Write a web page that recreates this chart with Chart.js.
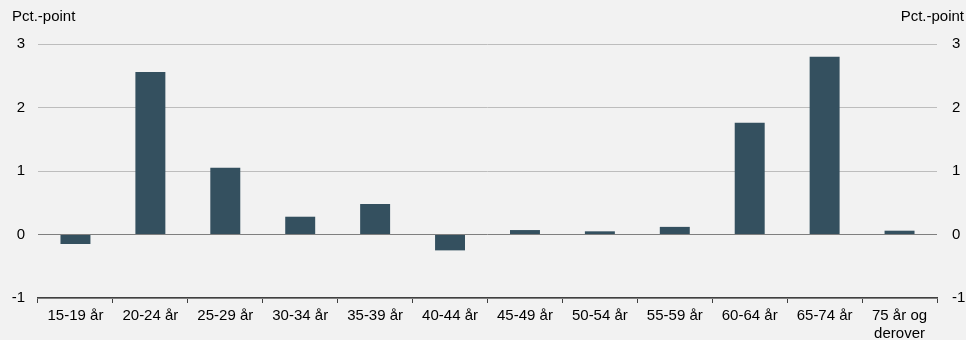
<!DOCTYPE html>
<html>
<head>
<meta charset="utf-8">
<script src="https://cdn.jsdelivr.net/npm/chart.js@4/dist/chart.umd.min.js"></script>
<style>
  html, body { margin: 0; padding: 0; background: #f2f2f2; }
  #wrap { width: 966px; height: 340px; }
</style>
</head>
<body>
<div id="wrap"><canvas id="grafik"></canvas></div>
<script>
const kategorier = [
  "15-19 år", "20-24 år", "25-29 år", "30-34 år", "35-39 år", "40-44 år",
  "45-49 år", "50-54 år", "55-59 år", "60-64 år", "65-74 år", ["75 år og", "derover"]
];
const vaerdier = [-0.15, 2.56, 1.05, 0.28, 0.48, -0.25, 0.07, 0.05, 0.12, 1.76, 2.8, 0.06];
const yTicks = [-1, 0, 1, 2, 3];
const enhed = "Pct.-point";

const fontFamilie = "'Liberation Sans', Arial, sans-serif";
const fontStr = 15;

const enhedPlugin = {
  id: "enhed",
  afterDraw(chart) {
    const ctx = chart.ctx;
    ctx.save();
    ctx.font = fontStr + "px " + fontFamilie;
    ctx.fillStyle = "#000";
    ctx.textBaseline = "middle";
    ctx.textAlign = "left";
    ctx.fillText(enhed, 12, 17);
    ctx.textAlign = "right";
    ctx.fillText(enhed, 964, 17);
    ctx.restore();
  }
};

const yAkse = (pos) => ({
  display: true,
  position: pos,
  min: -1,
  max: 3,
  afterBuildTicks: s => { s.ticks = yTicks.map(v => ({ value: v })); },
  afterFit: s => { s.width = pos === "left" ? 38 : 29; },
  border: { display: false },
  grid: {
    display: pos === "left",
    drawTicks: false,
    color: c => c.tick && c.tick.value === 0 ? "#7f7f7f" : "#bdbdbd",
    lineWidth: 1
  },
  ticks: {
    color: "#000",
    font: { size: fontStr },
    padding: pos === "left" ? 13 : 15
  }
});

Chart.defaults.font.family = fontFamilie;

new Chart(document.getElementById("grafik"), {
  type: "bar",
  data: {
    labels: kategorier,
    datasets: [{
      data: vaerdier,
      backgroundColor: "#34505f",
      categoryPercentage: 1,
      barPercentage: 0.4,
      yAxisID: "y"
    }]
  },
  options: {
    responsive: true,
    maintainAspectRatio: false,
    animation: false,
    layout: { padding: { top: 44, bottom: 0, left: 0, right: 0 } },
    plugins: {
      legend: { display: false },
      tooltip: { enabled: false }
    },
    scales: {
      x: {
        offset: true,
        afterFit: s => { s.height = 42; },
        border: { display: true, color: "#404040", width: 1.5 },
        grid: {
          offset: true,
          drawOnChartArea: false,
          drawTicks: true,
          tickLength: 5,
          color: "#404040"
        },
        ticks: {
          color: "#000",
          font: { size: fontStr },
          padding: 4,
          maxRotation: 0,
          autoSkip: false
        }
      },
      y: yAkse("left"),
      y2: yAkse("right")
    }
  },
  plugins: [enhedPlugin]
});
</script>
</body>
</html>
